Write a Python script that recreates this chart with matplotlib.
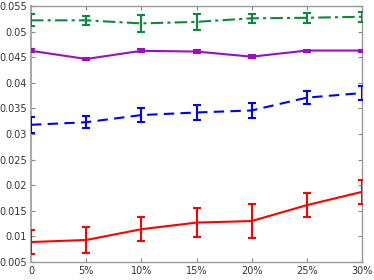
import matplotlib
matplotlib.use("Agg")
import matplotlib.pyplot as plt
from matplotlib.ticker import FuncFormatter

x = [0, 5, 10, 15, 20, 25, 30]
xlabels = ["0", "5%", "10%", "15%", "20%", "25%", "30%"]

green = [0.0522, 0.0522, 0.0516, 0.0519, 0.0526, 0.0527, 0.0529]
green_err = [0.0012, 0.0009, 0.0017, 0.0015, 0.0009, 0.0010, 0.0010]
purple = [0.04625, 0.04465, 0.04625, 0.0461, 0.0451, 0.0463, 0.0463]
purple_err = [0.0003, 0.0002, 0.0003, 0.0003, 0.0003, 0.0002, 0.0002]
blue = [0.0318, 0.0323, 0.0337, 0.0342, 0.0346, 0.0371, 0.0380]
blue_err = [0.0016, 0.0012, 0.0014, 0.0015, 0.0014, 0.0013, 0.0013]
red = [0.0089, 0.0093, 0.0114, 0.0127, 0.0130, 0.0161, 0.0187]
red_err = [0.0023, 0.0025, 0.0023, 0.0029, 0.0033, 0.0024, 0.0024]

yticks = [0.005, 0.01, 0.015, 0.02, 0.025, 0.03, 0.035, 0.04, 0.045, 0.05, 0.055]

fig = plt.figure(figsize=(3.74, 2.80), dpi=100)
ax = fig.add_axes([31/374, 1-262/280, (362-31)/374, (262-6)/280])

series = [
    (green, green_err, "#0a8a3c", (0, (6, 2, 1.5, 2))),
    (purple, purple_err, "#9b0fc4", "-"),
    (blue, blue_err, "#0000ff", (0, (5, 3))),
    (red, red_err, "#ff0000", "-"),
]
for vals, errs, col, ls in series:
    eb = ax.errorbar(x, vals, yerr=errs, color=col, linewidth=1.5, elinewidth=1.5,
                     capsize=3, capthick=1.5, ecolor=col, zorder=3)
    eb.lines[0].set_linestyle(ls)

ax.set_xlim(0, 30)
ax.set_ylim(0.005, 0.055)
ax.set_xticks(x)
ax.set_xticklabels(xlabels)
ax.set_yticks(yticks)
ax.yaxis.set_major_formatter(FuncFormatter(lambda v, p: ("%g" % round(v, 4))))
ax.tick_params(direction="in", length=3, labelsize=7, colors="#888888",
               labelcolor="#333333", top=True, right=True, pad=3)
for s in ax.spines.values():
    s.set_color("#999999")
    s.set_linewidth(1.0)
ax.spines["left"].set_linewidth(1.5)
ax.spines["left"].set_color("#aaaaaa")

fig.savefig("out.png", dpi=100)
